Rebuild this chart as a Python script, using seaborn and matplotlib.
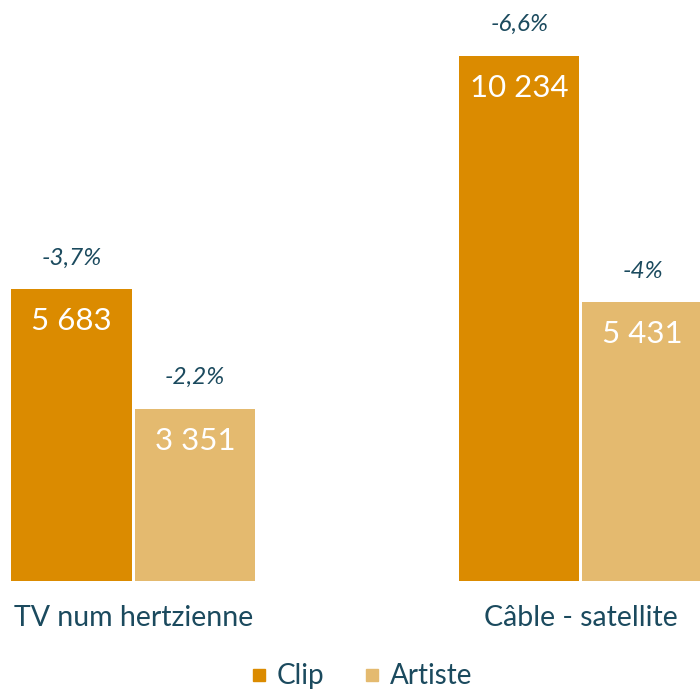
import matplotlib
matplotlib.use("Agg")
import matplotlib.pyplot as plt
import seaborn as sns
import pandas as pd
from matplotlib.lines import Line2D

categories = ["TV num hertzienne", "Câble - satellite"]
series = ["Clip", "Artiste"]
clip_values = [5683, 10234]
artiste_values = [3351, 5431]
clip_changes = ["-3,7%", "-6,6%"]
artiste_changes = ["-2,2%", "-4%"]

colors = {"Clip": "#DB8B00", "Artiste": "#E4BA6F"}
text_color = "#1B4A5E"

sns.set_theme(style="white")
plt.rcParams["font.family"] = ["Lato", "DejaVu Sans"]

rows = []
for i, c in enumerate(categories):
    rows.append({"cat": c, "serie": "Clip", "val": clip_values[i], "chg": clip_changes[i]})
    rows.append({"cat": c, "serie": "Artiste", "val": artiste_values[i], "chg": artiste_changes[i]})
df = pd.DataFrame(rows)

fig = plt.figure(figsize=(7, 6.91), dpi=100)
ax = fig.add_axes([0, 110 / 691, 1, 581 / 691])
sns.barplot(data=df, x="cat", y="val", hue="serie", hue_order=series,
            palette=colors, width=0.552, gap=0.025, saturation=1,
            order=categories, ax=ax, legend=False, linewidth=0)

ax.set_xlim(-0.298, 1.266)
ax.set_ylim(0, 11320)
for s in ax.spines.values():
    s.set_visible(False)
ax.set_yticks([])
ax.set_xlabel("")
ax.set_ylabel("")
ax.tick_params(axis="x", length=0, pad=17, labelsize=20.5, labelcolor=text_color)

def fmt(v):
    return f"{v:,}".replace(",", " ")

for container, changes in zip(ax.containers, [clip_changes, artiste_changes]):
    for bar, chg in zip(container, changes):
        x = bar.get_x() + bar.get_width() / 2
        h = bar.get_height()
        ax.annotate(fmt(int(round(h))), (x, h), xytext=(0, -23), textcoords="offset points",
                    ha="center", va="center", color="white", fontsize=22.5)
        ax.annotate(chg, (x, h), xytext=(0, 22.5), textcoords="offset points",
                    ha="center", va="center", color=text_color, fontsize=17.5, style="italic")

handles = [Line2D([], [], marker="s", linestyle="none", markersize=8,
                  color=colors[s], label=s) for s in series]
leg = fig.legend(handles=handles, loc="center", bbox_to_anchor=(0.514, 0.021), ncol=2,
                 frameon=False, fontsize=20, handletextpad=0.25, columnspacing=1.3,
                 handlelength=0.8, borderaxespad=0, borderpad=0)
for t in leg.get_texts():
    t.set_color(text_color)

fig.savefig("out.png", dpi=100)
